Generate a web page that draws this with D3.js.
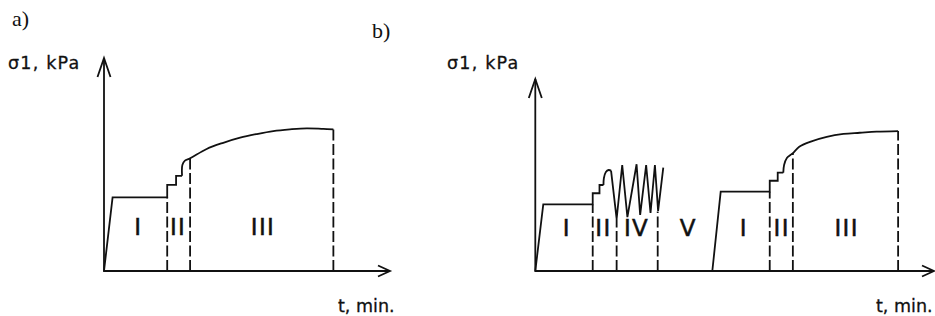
<!DOCTYPE html>
<html><head><meta charset="utf-8">
<script src="https://cdn.jsdelivr.net/npm/d3@7"></script>
<style>html,body{margin:0;padding:0;background:#fff;}svg{display:block;}</style>
</head><body>
<script>
// ---- data (abstract units: t in % of axis length, sigma in % of axis height) ----
const aLoadT  = [0, 3.0, 22.1, 22.1, 25.2, 25.2, 27.3, 27.3];
const aLoadS  = [0, 34.6, 34.6, 40.4, 40.4, 44.7, 44.7, 44.7];
const aCurveT = [27.3, 27.4, 28.3, 30.1, 35.9, 41.7, 47.6, 53.4, 59.2, 65.0, 70.9, 76.7, 80.2];
const aCurveS = [44.7, 49.8, 51.8, 52.9, 57.3, 60.2, 62.6, 64.3, 65.7, 66.5, 67.0, 66.7, 66.5];
const aDashT  = [22.1, 30.1, 80.2];
const aDashS  = [34.6, 52.9, 66.5];
const aLabels = ["I", "II", "III"];
const aLabelT = [12.0, 25.9, 55.6];

const bLoad1T = [0, 2.0, 14.4, 14.4, 16.1, 16.1, 17.1, 17.1];
const bLoad1S = [0, 34.7, 34.7, 40.5, 40.5, 44.8, 44.8, 44.8];
const bBumpT  = [17.1, 17.2, 17.7, 18.4, 19.0];
const bBumpS  = [44.8, 48.3, 51.6, 52.6, 52.3];
const bZigT   = [19.0, 20.4, 21.8, 23.1, 25.4, 26.3, 27.8, 28.9, 30.0, 30.8, 32.1];
const bZigS   = [52.3, 27.1, 55.2, 28.1, 55.6, 29.2, 55.2, 30.2, 55.2, 31.3, 53.8];
const bLoad2T = [44.4, 46.5, 58.8, 58.8, 60.8, 60.8, 62.2, 62.2];
const bLoad2S = [0, 41.3, 41.3, 47.0, 47.0, 51.2, 51.2, 51.2];
const bCurveT = [62.2, 62.4, 63.1, 64.0, 64.6, 66.2, 68.9, 73.1, 77.3, 81.4, 85.6, 91.0];
const bCurveS = [51.2, 55.2, 58.9, 60.4, 61.3, 64.7, 67.3, 69.9, 71.4, 72.0, 72.6, 72.9];
const bDashT  = [14.4, 20.4, 30.7, 58.8, 64.6, 91.0];
const bDashS  = [34.7, 27.1, 31.0, 41.3, 61.3, 72.9];
const bLabels = ["I", "II", "IV", "V", "I", "II", "III"];
const bLabelT = [7.9, 17.1, 25.4, 38.4, 52.3, 61.8, 78.1];

const yLabel = "σ1, kPa";
const xLabel = "t, min.";
const panelTags = ["a)", "b)"];

// ---- drawing ----
const W = 935, H = 316;
const ink = "#111";
const svg = d3.select("body").append("svg").attr("width", W).attr("height", H);

const zip = (ts, ss) => ts.map((t, i) => [t, ss[i]]);

function panel(cfg) {
  const x = d3.scaleLinear().domain([0, 100]).range(cfg.xr);
  const y = d3.scaleLinear().domain([0, 100]).range(cfg.yr);
  const g = svg.append("g");
  const lin = d3.line().x(d => x(d[0])).y(d => y(d[1]));
  const smooth = d3.line().x(d => x(d[0])).y(d => y(d[1])).curve(d3.curveCatmullRom.alpha(0.5));
  const st = sel => sel.attr("fill", "none").attr("stroke", ink).attr("stroke-width", 1.8)
                       .attr("stroke-linejoin", "miter");

  // axes
  g.append("path").attr("d", lin([[0, 100], [0, 0], [100, 0]])).call(st);
  const x0 = x(0), y0 = y(0), xt = x(100), yt = y(100);
  g.append("path").attr("d", `M${x0 - 6.5},${yt + 19}L${x0},${yt}L${x0 + 6.5},${yt + 19}`).call(st);
  g.append("path").attr("d", `M${xt - 12},${y0 - 5.5}L${xt},${y0}L${xt - 12},${y0 + 5.5}`).call(st);

  cfg.lin.forEach(p => g.append("path").attr("d", lin(p)).call(st));
  cfg.smooth.forEach(p => g.append("path").attr("d", smooth(p)).call(st));

  // dashed boundaries
  g.selectAll("line.dash").data(zip(cfg.dashT, cfg.dashS)).enter().append("line")
    .attr("x1", d => x(d[0])).attr("x2", d => x(d[0]))
    .attr("y1", y(0)).attr("y2", d => y(d[1]))
    .attr("stroke", ink).attr("stroke-width", 1.8).attr("stroke-dasharray", "11,3.5");

  // stage labels
  g.selectAll("text.stage").data(cfg.labels).enter().append("text")
    .attr("x", (d, i) => x(cfg.labelT[i])).attr("y", y(cfg.labelS) + 8.5)
    .attr("text-anchor", "middle")
    .attr("font-family", "DejaVu Sans").attr("font-size", 23)
    .attr("letter-spacing", 1.4).attr("fill", ink)
    .attr("stroke", ink).attr("stroke-width", 0.5).text(d => d);

  // axis titles
  g.append("text").attr("x", cfg.yl[0]).attr("y", cfg.yl[1])
    .attr("font-family", "DejaVu Sans").attr("font-size", 17.5).attr("letter-spacing", 1.2)
    .attr("fill", ink).attr("stroke", ink).attr("stroke-width", 0.3).text(yLabel);
  g.append("text").attr("x", cfg.xl[0]).attr("y", cfg.xl[1])
    .attr("font-family", "DejaVu Sans").attr("font-size", 17.5)
    .attr("fill", ink).attr("stroke", ink).attr("stroke-width", 0.3).text(xLabel);
  g.append("text").attr("x", cfg.tag[0]).attr("y", cfg.tag[1])
    .attr("font-family", "Liberation Serif").attr("font-size", 22).attr("fill", ink).text(cfg.tagText);
}

panel({
  xr: [104, 390], yr: [271, 58],
  lin: [zip(aLoadT, aLoadS)],
  smooth: [zip(aCurveT, aCurveS)],
  dashT: aDashT, dashS: aDashS,
  labels: aLabels, labelT: aLabelT, labelS: 21,
  yl: [8, 69], xl: [338, 312], tag: [12, 26], tagText: panelTags[0]
});

panel({
  xr: [535.3, 934], yr: [271, 79],
  lin: [zip(bLoad1T, bLoad1S), zip(bZigT, bZigS), zip(bLoad2T, bLoad2S)],
  smooth: [zip(bBumpT, bBumpS), zip(bCurveT, bCurveS)],
  dashT: bDashT, dashS: bDashS,
  labels: bLabels, labelT: bLabelT, labelS: 22.7,
  yl: [447, 69], xl: [876, 312], tag: [372, 38], tagText: panelTags[1]
});
</script>
</body></html>
